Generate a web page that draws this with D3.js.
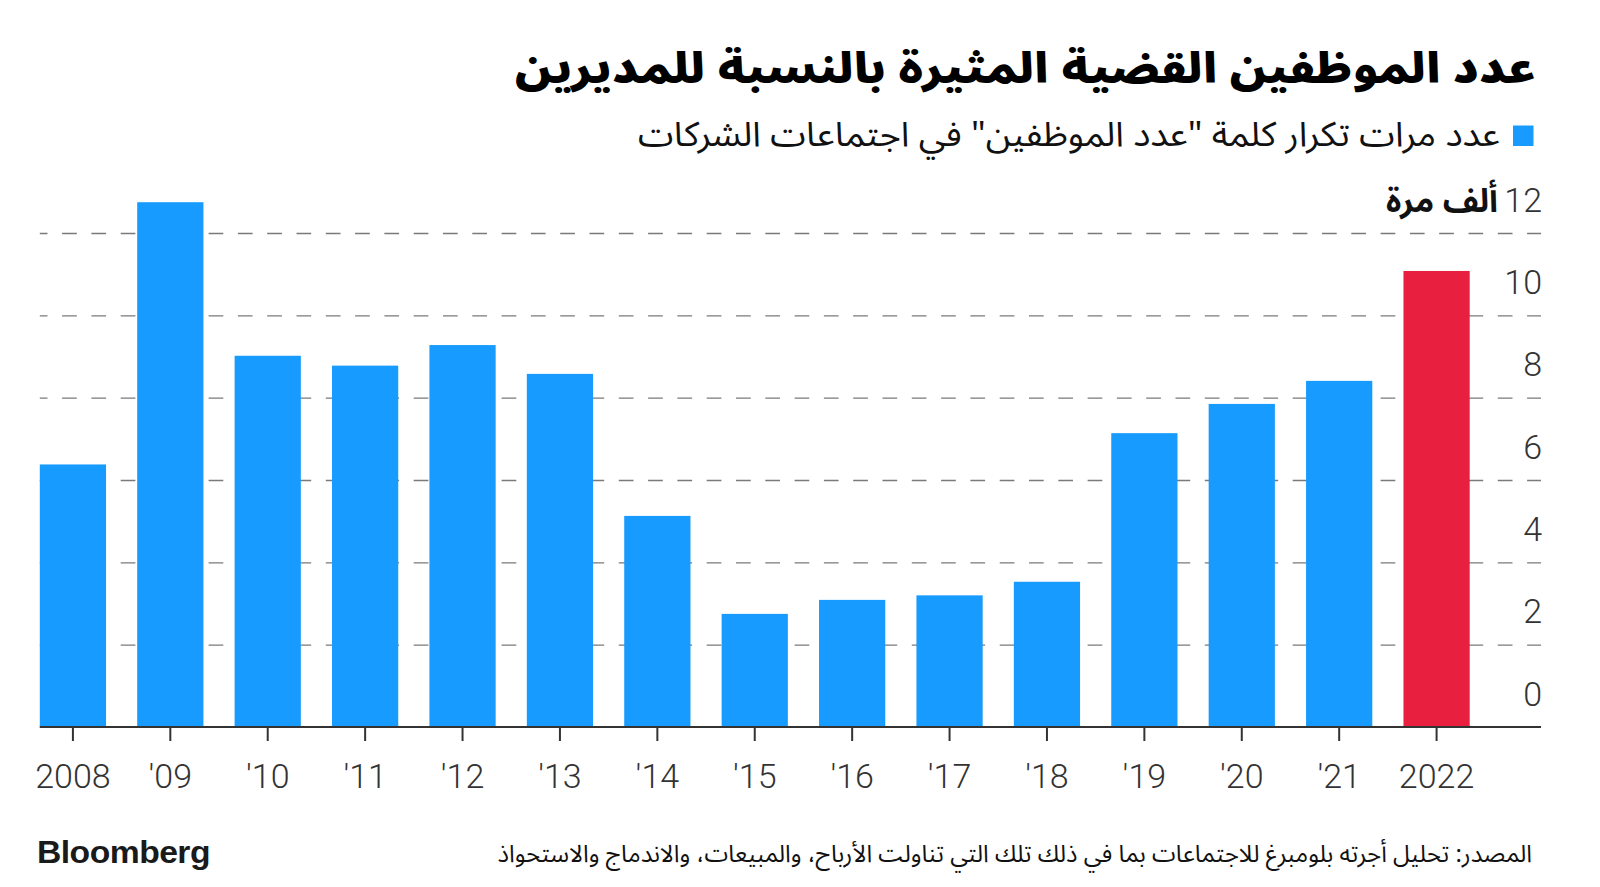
<!DOCTYPE html>
<html>
<head>
<meta charset="utf-8">
<script src="https://cdn.jsdelivr.net/npm/d3@7"></script>
<style>
  html, body { margin: 0; padding: 0; background: #ffffff; }
  svg { display: block; }
</style>
</head>
<body>
<svg id="chart" width="1600" height="887"></svg>
<script>
// ---------- data ----------
const categories = ["2008","'09","'10","'11","'12","'13","'14","'15","'16","'17","'18","'19","'20","'21","2022"];
const values = [6.39, 12.76, 9.03, 8.79, 9.29, 8.59, 5.14, 2.76, 3.10, 3.21, 3.54, 7.15, 7.86, 8.42, 11.09];
const highlight = ["2022"];
const yTicks = [0, 2, 4, 6, 8, 10, 12];
const title = "عدد الموظفين القضية المثيرة بالنسبة للمديرين";
const legendLabel = "عدد مرات تكرار كلمة \"عدد الموظفين\" في اجتماعات الشركات";
const unitLabel = "ألف مرة";
const sourceText = "المصدر: تحليل أجرته بلومبرغ للاجتماعات بما في ذلك تلك التي تناولت الأرباح، والمبيعات، والاندماج والاستحواذ";
const brand = "Bloomberg";

// ---------- layout ----------
const W = 1600, H = 887;
const plot = { left: 39.8, right: 1541, barsRight: 1469.7, top: 233.5, bottom: 727.5 };
const BLUE = "#189BFF", RED = "#E91F3F", AXIS = "#333";
const arabicFont = "'Noto Sans Arabic','DejaVu Sans',sans-serif";
const numFont = "Roboto,'Liberation Sans',sans-serif";

const svg = d3.select("#chart");

const x = d3.scaleBand().domain(categories).range([plot.left, plot.barsRight])
  .paddingInner(0.32).paddingOuter(0).align(0);
const y = d3.scaleLinear().domain([0, 12]).range([plot.bottom, plot.top]);

function fit(sel, target, shrink) {
  const node = sel.node();
  const fs = parseFloat(sel.attr("font-size"));
  const w = node.getComputedTextLength();
  if (w > 0) sel.attr("font-size", (fs * target / w * (shrink || 1)).toFixed(2));
  if (shrink) sel.attr("textLength", target).attr("lengthAdjust", "spacingAndGlyphs");
}

// ---------- gridlines ----------
const grid = svg.append("g").attr("class", "grid");
grid.selectAll("line").data(yTicks.filter(d => d > 0)).join("line")
  .attr("x1", plot.left).attr("x2", plot.right)
  .attr("y1", d => y(d)).attr("y2", d => y(d))
  .attr("stroke", "#7a7a7a").attr("stroke-width", 1.4)
  .attr("stroke-dasharray", "14.7 14.6").attr("stroke-dashoffset", 7);

// ---------- bars ----------
svg.append("g").selectAll("rect").data(categories).join("rect")
  .attr("x", d => x(d))
  .attr("width", x.bandwidth())
  .attr("y", (d, i) => y(values[i]))
  .attr("height", (d, i) => y(0) - y(values[i]))
  .attr("fill", d => highlight.includes(d) ? RED : BLUE);

// ---------- x axis ----------
const xAxis = svg.append("g").attr("transform", `translate(0,${y(0) - 0.5})`)
  .call(d3.axisBottom(x).tickSizeOuter(0).tickSizeInner(14).tickPadding(23));
xAxis.select(".domain").remove();
xAxis.insert("line", ":first-child")
  .attr("x1", plot.left).attr("x2", plot.right).attr("y1", 0).attr("y2", 0)
  .attr("stroke", AXIS).attr("stroke-width", 2.2);
xAxis.selectAll(".tick line").attr("stroke", AXIS).attr("stroke-width", 2);
xAxis.selectAll(".tick text")
  .attr("font-family", numFont).attr("font-weight", 300)
  .attr("font-size", 34).attr("fill", "#333")
  .attr("dy", null).attr("y", 61);

// ---------- y labels ----------
const yl = svg.append("g");
yl.selectAll("text").data(yTicks).join("text")
  .attr("x", 1542).attr("y", d => y(d) - 22)
  .attr("text-anchor", "end")
  .attr("font-family", numFont).attr("font-weight", 300)
  .attr("font-size", 34).attr("fill", "#333")
  .text(d => d);
yl.append("text")
  .attr("x", 1498).attr("y", y(12) - 22)
  .attr("text-anchor", "end")
  .attr("font-family", arabicFont).attr("font-weight", 700)
  .attr("font-size", 28).attr("fill", "#111")
  .text(unitLabel)
  .call(s => fit(s, 112));

// ---------- title ----------
svg.append("text")
  .attr("x", 1536).attr("y", 83)
  .attr("text-anchor", "end")
  .attr("font-family", arabicFont).attr("font-weight", 900)
  .attr("font-size", 44).attr("fill", "#000")
  .text(title)
  .call(s => fit(s, 1021, 0.88));

// ---------- legend ----------
svg.append("rect")
  .attr("x", 1513).attr("y", 125.5).attr("width", 20.5).attr("height", 20.5)
  .attr("fill", BLUE);
svg.append("text")
  .attr("x", 1500).attr("y", 146)
  .attr("text-anchor", "end")
  .attr("font-family", arabicFont).attr("font-weight", 400)
  .attr("font-size", 30).attr("fill", "#111")
  .text(legendLabel)
  .call(s => fit(s, 862, 0.95));

// ---------- footer ----------
svg.append("text")
  .attr("x", 1532).attr("y", 862)
  .attr("text-anchor", "end")
  .attr("font-family", arabicFont).attr("font-weight", 400)
  .attr("font-size", 24).attr("fill", "#111")
  .text(sourceText)
  .call(s => fit(s, 1035));

svg.append("text")
  .attr("x", 37).attr("y", 863)
  .attr("font-family", "'Liberation Sans',Arial,sans-serif").attr("font-weight", 700)
  .attr("font-size", 31).attr("fill", "#1a1a1a")
  .attr("letter-spacing", -0.5)
  .attr("textLength", 173).attr("lengthAdjust", "spacingAndGlyphs")
  .text(brand);
</script>
</body>
</html>
